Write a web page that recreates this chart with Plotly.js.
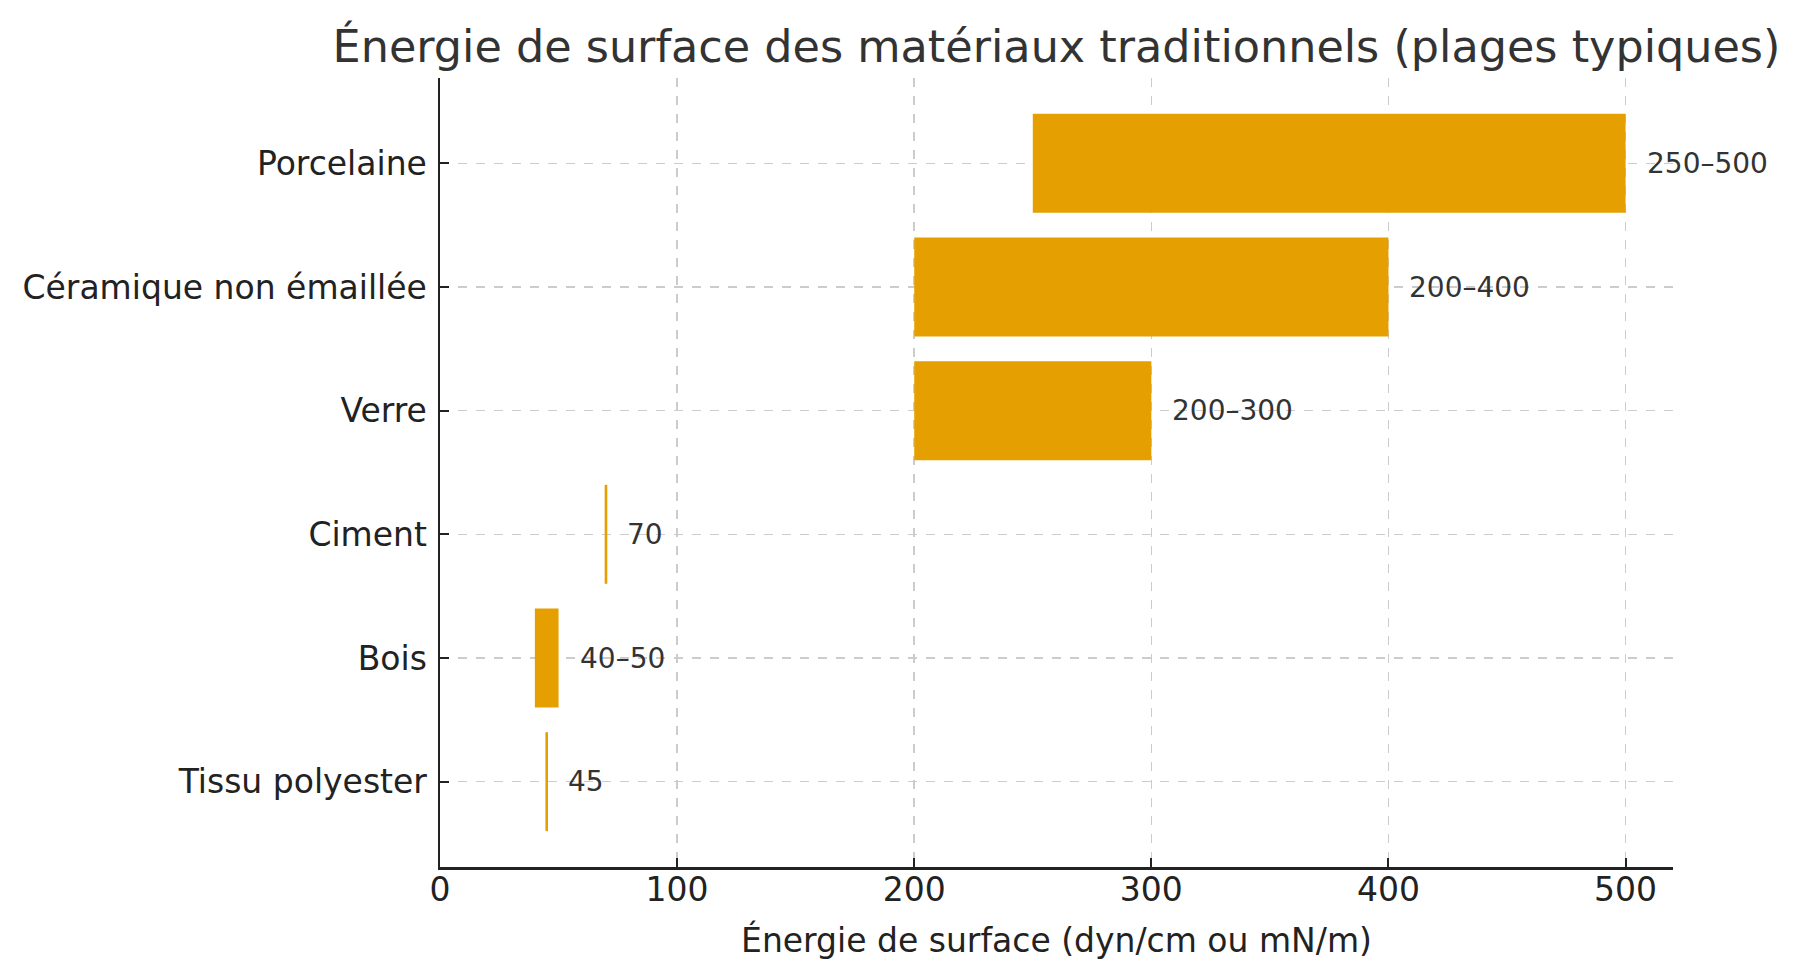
<!DOCTYPE html>
<html>
<head>
<meta charset="utf-8">
<script src="https://cdn.plot.ly/plotly-3.0.1.min.js"></script>
<style>
  html, body { margin: 0; padding: 0; background: #fff; }
  #chart { width: 1799px; height: 980px; }
</style>
</head>
<body>
<div id="chart"></div>
<script>
// materials, bottom to top as drawn
var materials = ['Tissu polyester', 'Bois', 'Ciment', 'Verre', 'Céramique non émaillée', 'Porcelaine'];
var lowValues = [45, 40, 70, 200, 200, 250];
var highValues = [45, 50, 70, 300, 400, 500];
var rangeLabels = ['45', '40–50', '70', '200–300', '200–400', '250–500'];

// a zero-width range still shows as a thin line, like the original
var minLen = 1.1;
var lengths = [];
var bases = [];
for (var i = 0; i < materials.length; i++) {
    var len = Math.max(highValues[i] - lowValues[i], minLen);
    lengths.push(len);
    bases.push((lowValues[i] + highValues[i]) / 2 - len / 2);
}

var trace = {
    type: 'bar',
    orientation: 'h',
    y: materials,
    x: lengths,
    base: bases,
    width: 0.8,
    marker: { color: '#E69F00', line: { width: 0 } },
    hoverinfo: 'skip'
};

var labels = [];
for (var j = 0; j < materials.length; j++) {
    labels.push({
        x: highValues[j],
        y: materials[j],
        xref: 'x',
        yref: 'y',
        text: rangeLabels[j],
        showarrow: false,
        xanchor: 'left',
        yanchor: 'middle',
        xshift: 19,
        font: { family: 'DejaVu Sans', size: 28, color: '#333333' }
    });
}

var layout = {
    width: 1799,
    height: 980,
    paper_bgcolor: '#ffffff',
    plot_bgcolor: '#ffffff',
    margin: { l: 440, r: 126, t: 78, b: 113 },
    font: { family: 'DejaVu Sans', color: '#222222' },
    showlegend: false,
    title: {
        text: 'Énergie de surface des matériaux traditionnels (plages typiques)',
        font: { family: 'DejaVu Sans', size: 44.5, color: '#333333' },
        x: 0.5,
        xref: 'paper',
        xanchor: 'center',
        y: 0.953,
        yref: 'container',
        yanchor: 'middle'
    },
    xaxis: {
        range: [0, 520],
        tick0: 0,
        dtick: 100,
        ticks: 'inside',
        ticklen: 9,
        tickwidth: 2,
        tickcolor: '#222222',
        tickfont: { size: 33, color: '#222222' },
        ticklabelstandoff: -8,
        showline: true,
        linecolor: '#222222',
        linewidth: 2.5,
        showgrid: true,
        gridcolor: '#cccccc',
        griddash: 'dash',
        gridwidth: 1.5,
        zeroline: false,
        title: {
            text: 'Énergie de surface (dyn/cm ou mN/m)',
            font: { size: 33, color: '#222222' },
            standoff: 21
        }
    },
    yaxis: {
        type: 'category',
        range: [-0.69, 5.69],
        ticks: 'inside',
        ticklen: 9,
        tickwidth: 2,
        tickcolor: '#222222',
        tickfont: { size: 33, color: '#222222' },
        ticklabelstandoff: 4,
        showline: true,
        linecolor: '#222222',
        linewidth: 2.5,
        showgrid: true,
        gridcolor: '#cccccc',
        griddash: 'dash',
        gridwidth: 1.5,
        zeroline: false
    },
    annotations: labels
};

Plotly.newPlot('chart', [trace], layout, { displayModeBar: false, staticPlot: true });
</script>
</body>
</html>
